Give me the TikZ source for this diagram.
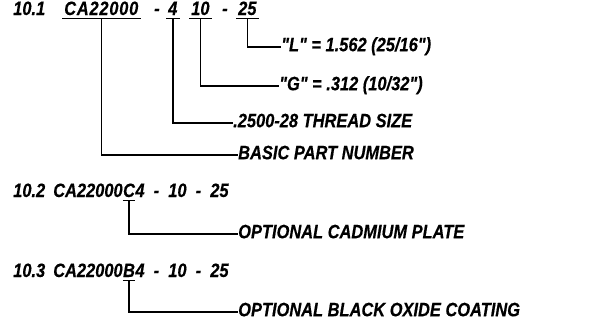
\documentclass[tikz,border=0pt]{standalone}
\usepackage{fontspec}
\newfontfamily\partfont[FakeStretch=0.85,BoldItalicFeatures={FakeBold=0.4}]{Liberation Sans}
\usetikzlibrary{positioning}

\newcommand{\qt}{\symbol{34}}

\tikzset{
  code/.style={anchor=base west,inner sep=0pt,font=\partfont\bfseries\itshape\fontsize{16.5}{19}\selectfont},
  part/.style={code,inner xsep=0.06cm,inner ysep=0.09cm},
  opt/.style={code,inner ysep=0.09cm},
  lbl/.style={code,anchor=west,text height=0.72em,text depth=0pt},
  lead/.style={line width=1.2pt}
}

\begin{document}
\begin{tikzpicture}[x=0.03cm,y=-0.03cm]
  \useasboundingbox (0,0) rectangle (613,336);

  % 10.1 breakdown of the part number
  \node[code] (no1) at (13,15) {10.1};
  \node[part] (cat) at (62,15) {\addfontfeature{LetterSpace=4}CA22000};
  \node[code] (dsh1) at (154,15) {-};
  \node[part] (thr) at (166,15) {4};
  \node[part] (grip) at (189,15) {10};
  \node[code] (dsh2) at (222,15) {-};
  \node[part] (len) at (236,15) {25};
  \foreach \n in {cat,thr,grip,len}
    \draw[lead] (\n.south west) -- (\n.south east);

  \node[lbl] (lval) at (281,47) {\qt L\qt{} = 1.562 (25/16\qt)};
  \node[lbl] (gval) at (279,86) {\qt G\qt{} = .312 (10/32\qt)};
  \node[lbl] (tsize) at (233,123) {.2500-28 THREAD SIZE};
  \node[lbl] (basic) at (238,155) {BASIC PART NUMBER};

  \draw[lead] (len.south) |- (lval.west);
  \draw[lead] (grip.south) |- (gval.west);
  \draw[lead] (thr.south) |- (tsize.west);
  \draw[lead] (cat.south) |- (basic.west);

  % 10.2 cadmium plate option
  \node[code] (no2) at (13,197) {10.2};
  \node[code] (cat2) at (53,197) {CA22000};
  \node[opt] (plate) at (cat2.base east) {C};
  \node[code] (rest2) at (plate.base east) {4 ~-~ 10 ~-~ 25};
  \draw[lead] (plate.south west) -- (plate.south east);
  \node[lbl] (cad) at (238,234) {OPTIONAL CADMIUM PLATE};
  \draw[lead] (plate.south) |- (cad.west);

  % 10.3 black oxide option
  \node[code] (no3) at (13,277) {10.3};
  \node[code] (cat3) at (53,277) {CA22000};
  \node[opt] (oxide) at (cat3.base east) {B};
  \node[code] (rest3) at (oxide.base east) {4 ~-~ 10 ~-~ 25};
  \draw[lead] (oxide.south west) -- (oxide.south east);
  \node[lbl] (blk) at (238,312) {OPTIONAL BLACK OXIDE COATING};
  \draw[lead] (oxide.south) |- (blk.west);
\end{tikzpicture}
\end{document}
